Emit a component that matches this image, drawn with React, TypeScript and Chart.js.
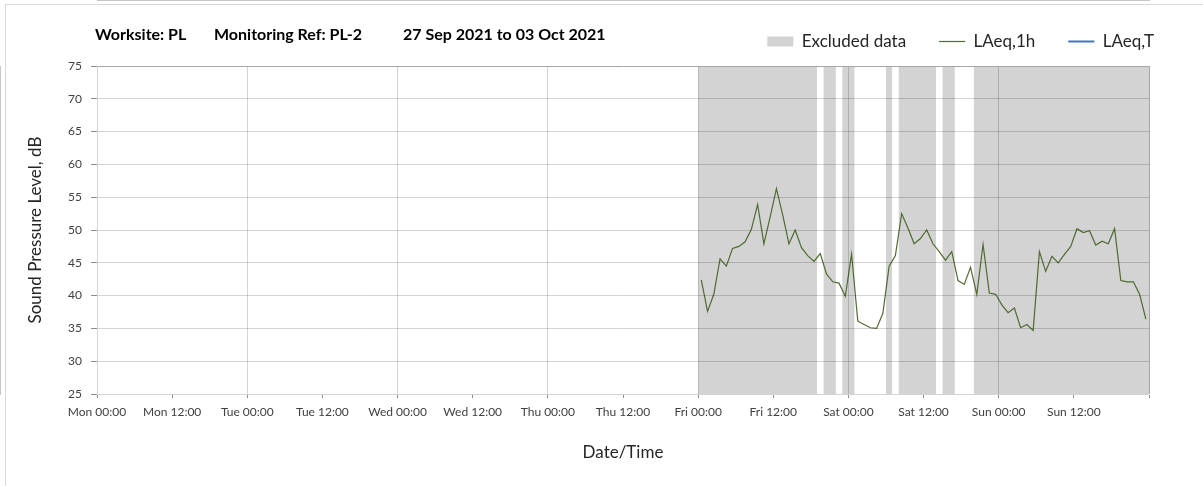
import React, { useEffect, useRef } from 'react';
import { Chart, registerables } from 'chart.js';

Chart.register(...registerables);

// ---- data ----
const TITLE_PARTS = ['Worksite: PL', 'Monitoring Ref: PL-2', '27 Sep 2021 to 03 Oct 2021'];
const TITLE_OFFSETS = [0, 119, 308];

const X_TICK_LABELS = [
  'Mon 00:00', 'Mon 12:00', 'Tue 00:00', 'Tue 12:00', 'Wed 00:00', 'Wed 12:00',
  'Thu 00:00', 'Thu 12:00', 'Fri 00:00', 'Fri 12:00', 'Sat 00:00', 'Sat 12:00',
  'Sun 00:00', 'Sun 12:00',
];

// hours since Mon 27 Sep 00:00; hourly values are centred on each hour (hh:30)
const LAEQ_FIRST_HOUR = 96.5;
const LAEQ_1H = [
  42.4, 37.6, 40.2, 45.6, 44.5, 47.2, 47.5, 48.2, 50.1, 53.9, 47.9, 52.0,
  56.3, 52.3, 47.9, 50.0, 47.3, 46.1, 45.2, 46.4, 43.3, 42.1, 41.9, 39.9,
  46.3, 36.1, 35.6, 35.1, 35.0, 37.3, 44.5, 46.1, 52.5, 50.3, 47.9, 48.7,
  50.0, 47.9, 46.7, 45.4, 46.7, 42.3, 41.7, 44.3, 40.2, 47.8, 40.4, 40.2,
  38.6, 37.4, 38.1, 35.1, 35.6, 34.7, 46.7, 43.7, 46.0, 45.0, 46.3, 47.5,
  50.2, 49.6, 49.9, 47.7, 48.3, 47.9, 50.2, 42.3, 42.1, 42.1, 40.2, 36.4,
];
const LAEQ_T: number[] = [];

// excluded periods (hours since Mon 00:00)
const EXCLUDED_START = [96, 116, 119, 126, 128, 135, 140];
const EXCLUDED_END = [115, 118, 121, 127, 134, 137, 168];

const Y_MIN = 25;
const Y_MAX = 75;
const X_MIN = 0;
const X_MAX = 168;

// ---- styles ----
const FONT = 'Lato';
const GREEN = '#4f6b2f';
const BLUE = '#4472c4';
const BAND = '#d3d3d3';
const GRID = 'rgba(0,0,0,0.17)';
const AXIS = '#8c8c8c';
const TEXT = '#262626';
const TICK_TEXT = '#404040';
const FRAME = '#d9d9d9';

const headerTitle = {
  id: 'headerTitle',
  afterDraw(chart: any) {
    const { ctx, chartArea } = chart;
    ctx.save();
    ctx.font = `bold 16px ${FONT}`;
    ctx.fillStyle = '#000';
    ctx.textBaseline = 'middle';
    const x0 = chartArea.left - 2;
    TITLE_PARTS.forEach((t, i) => {
      ctx.fillText(t, x0 + TITLE_OFFSETS[i], 35);
    });
    ctx.restore();
  },
};

export default function App() {
  const ref = useRef<HTMLCanvasElement | null>(null);

  useEffect(() => {
    if (!ref.current) return;
    Chart.defaults.font.family = FONT;

    const lineData = LAEQ_1H.map((v, i) => ({ x: LAEQ_FIRST_HOUR + i, y: v }));
    const bandData: { x: number; y: number | null }[] = [];
    EXCLUDED_START.forEach((s, i) => {
      bandData.push({ x: s, y: Y_MAX });
      bandData.push({ x: EXCLUDED_END[i], y: Y_MAX });
      bandData.push({ x: EXCLUDED_END[i], y: null });
    });

    const chart = new Chart(ref.current, {
      type: 'line',
      data: {
        datasets: [
          {
            label: 'Excluded data',
            data: bandData as any,
            xAxisID: 'x',
            yAxisID: 'y',
            borderWidth: 0,
            borderColor: BAND,
            backgroundColor: BAND,
            fill: 'start',
            pointRadius: 0,
            spanGaps: false,
            order: 3,
          },
          {
            label: 'LAeq,1h',
            data: lineData,
            xAxisID: 'x',
            yAxisID: 'y',
            borderColor: GREEN,
            backgroundColor: GREEN,
            borderWidth: 1.2,
            pointRadius: 0,
            tension: 0,
            fill: false,
            order: 1,
          },
          {
            label: 'LAeq,T',
            data: LAEQ_T as any,
            xAxisID: 'x',
            yAxisID: 'y',
            borderColor: BLUE,
            backgroundColor: BLUE,
            borderWidth: 2,
            pointRadius: 0,
            fill: false,
            order: 0,
          },
        ],
      },
      options: {
        animation: false,
        responsive: false,
        layout: { padding: { left: 0, right: 16, top: 0, bottom: 0 } },
        plugins: {
          title: { display: false },
          tooltip: { enabled: false },
          legend: {
            display: true,
            position: 'top',
            align: 'end',
            labels: {
              font: { size: 17, family: FONT },
              color: TEXT,
              padding: 33,
              usePointStyle: true,
              pointStyleWidth: 26,
              boxHeight: 10,
              generateLabels: (c: any) =>
                c.data.datasets.map((ds: any, i: number) => ({
                  text: ds.label,
                  fillStyle: ds.fill ? ds.backgroundColor : 'transparent',
                  strokeStyle: ds.borderColor,
                  lineWidth: ds.fill ? 0 : ds.borderWidth,
                  pointStyle: ds.fill ? 'rect' : 'line',
                  hidden: false,
                  datasetIndex: i,
                  fontColor: TEXT,
                })),
            },
          },
        },
        scales: {
          x: {
            type: 'linear',
            position: 'bottom',
            min: X_MIN,
            max: X_MAX,
            afterFit: (s: any) => { s.height = 92; },
            ticks: {
              stepSize: 12,
              autoSkip: false,
              maxRotation: 0,
              minRotation: 0,
              padding: 7,
              color: TICK_TEXT,
              font: { size: 12, family: FONT },
              callback: (_v: any, i: number) => X_TICK_LABELS[i] ?? '',
            },
            grid: {
              z: 1,
              color: (ctx: any) => {
                const v = ctx.tick ? ctx.tick.value : 0;
                if (v === X_MAX) return '#a6a6a6';
                return v % 24 === 0 ? GRID : 'transparent';
              },
              tickColor: AXIS,
              tickLength: 4,
              lineWidth: 1,
            },
            border: { display: true, color: AXIS, width: 1 },
            title: {
              display: true,
              text: 'Date/Time',
              color: TEXT,
              font: { size: 17, family: FONT },
              padding: { top: 0, bottom: 23 },
            },
          },
          xTop: {
            type: 'linear',
            position: 'top',
            display: true,
            afterFit: (s: any) => { s.height = 6; },
            ticks: { display: false },
            grid: { display: false, drawTicks: false },
            border: { display: false },
          },
          y: {
            type: 'linear',
            position: 'left',
            min: Y_MIN,
            max: Y_MAX,
            afterFit: (s: any) => { s.width = 97; },
            ticks: {
              stepSize: 5,
              padding: 9,
              color: TICK_TEXT,
              font: { size: 12, family: FONT },
            },
            grid: {
              z: 1,
              color: (ctx: any) => (ctx.tick && ctx.tick.value === Y_MAX ? '#a6a6a6' : GRID),
              tickColor: AXIS,
              tickLength: 6,
              lineWidth: 1,
            },
            border: { display: true, color: AXIS, width: 1 },
            title: {
              display: true,
              text: 'Sound Pressure Level, dB',
              color: TEXT,
              font: { size: 17, family: FONT },
              padding: { top: 25, bottom: 0 },
            },
          },
          yRight: {
            type: 'linear',
            position: 'right',
            display: true,
            afterFit: (s: any) => { s.width = 38; },
            ticks: { display: false },
            grid: { display: false, drawTicks: false },
            border: { display: false },
          },
        },
      },
      plugins: [headerTitle],
    } as any);

    return () => chart.destroy();
  }, []);

  return (
    <div style={{ position: 'fixed', left: 0, top: 0, width: 1203, height: 486, background: '#fff', overflow: 'hidden' }}>
      <div
        style={{
          position: 'absolute', left: 5, top: 4, right: 0, bottom: 0,
          borderTop: `1px solid ${FRAME}`, borderLeft: `1px solid ${FRAME}`,
        }}
      />
      <canvas
        ref={ref}
        width={1203}
        height={486}
        style={{ position: 'absolute', left: 0, top: 0, display: 'block', width: 1203, height: 486 }}
      />
    </div>
  );
}
